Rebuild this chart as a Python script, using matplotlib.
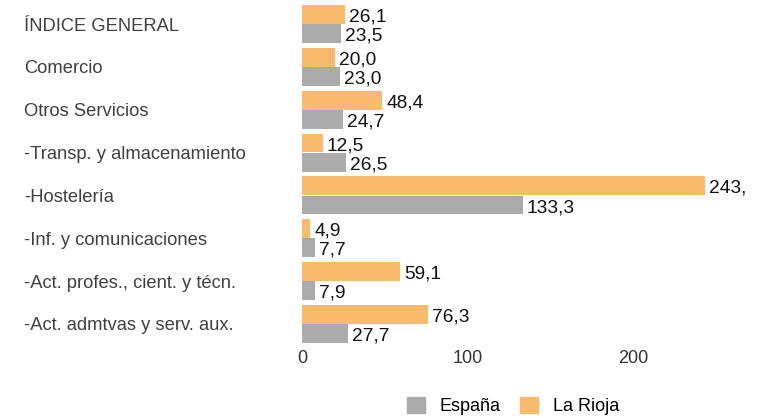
import matplotlib
matplotlib.use("Agg")
import matplotlib.pyplot as plt
from matplotlib.patches import Patch
import numpy as np

categories = ["ÍNDICE GENERAL", "Comercio", "Otros Servicios", "-Transp. y almacenamiento",
              "-Hostelería", "-Inf. y comunicaciones", "-Act. profes., cient. y técn.",
              "-Act. admtvas y serv. aux."]
la_rioja = [26.1, 20.0, 48.4, 12.5, 243.4, 4.9, 59.1, 76.3]
espana = [23.5, 23.0, 24.7, 26.5, 133.3, 7.7, 7.9, 27.7]
xticks = [0, 100, 200]

c_rioja = "#F8BA6C"
c_esp = "#ABABAB"

plt.rcParams['font.family'] = ['Liberation Sans', 'DejaVu Sans']

fig = plt.figure(figsize=(7.58, 4.18), dpi=100)
ax = fig.add_axes([302/758, 1-345.4/418, 443/758, 342.8/418])

y = np.arange(len(categories))
h = 0.44
b1 = ax.barh(y - 0.225, la_rioja, height=h, color=c_rioja, label="La Rioja")
b2 = ax.barh(y + 0.225, espana, height=h, color=c_esp, label="España")

xmax = 443/1.655
ax.set_xlim(0, xmax)
off = 4.0 / 1.655  # ~4 px in data units
for bars, vals in ((b1, la_rioja), (b2, espana)):
    for rect, v in zip(bars, vals):
        ax.text(rect.get_width() + off, rect.get_y() + rect.get_height()/2 + 0.06,
                f"{v:.1f}".replace(".", ","), va="center", ha="left",
                fontsize=13.8, color="#111111", clip_on=True)

ax.set_ylim(len(categories) - 0.5, -0.5)
ax.set_xticks(xticks)
ax.set_xticklabels([str(v) for v in xticks], fontsize=13, color="#333333")
ax.set_yticks(y)
ax.set_yticklabels(categories, fontsize=13.2, color="#404040", ha="left")
ax.tick_params(axis="y", length=0, pad=278*72/100)
ax.tick_params(axis="x", length=0, pad=3)
for s in ax.spines.values():
    s.set_visible(False)

handles = [Patch(color=c_esp, label="España"), Patch(color=c_rioja, label="La Rioja")]
fig.legend(handles=handles, loc="center", bbox_to_anchor=(513/758, 1-406/418), ncol=2,
           frameon=False, fontsize=13, handlelength=1.0, handleheight=1.0, handletextpad=0.8,
           columnspacing=1.1)

fig.savefig("out.png", dpi=100)
